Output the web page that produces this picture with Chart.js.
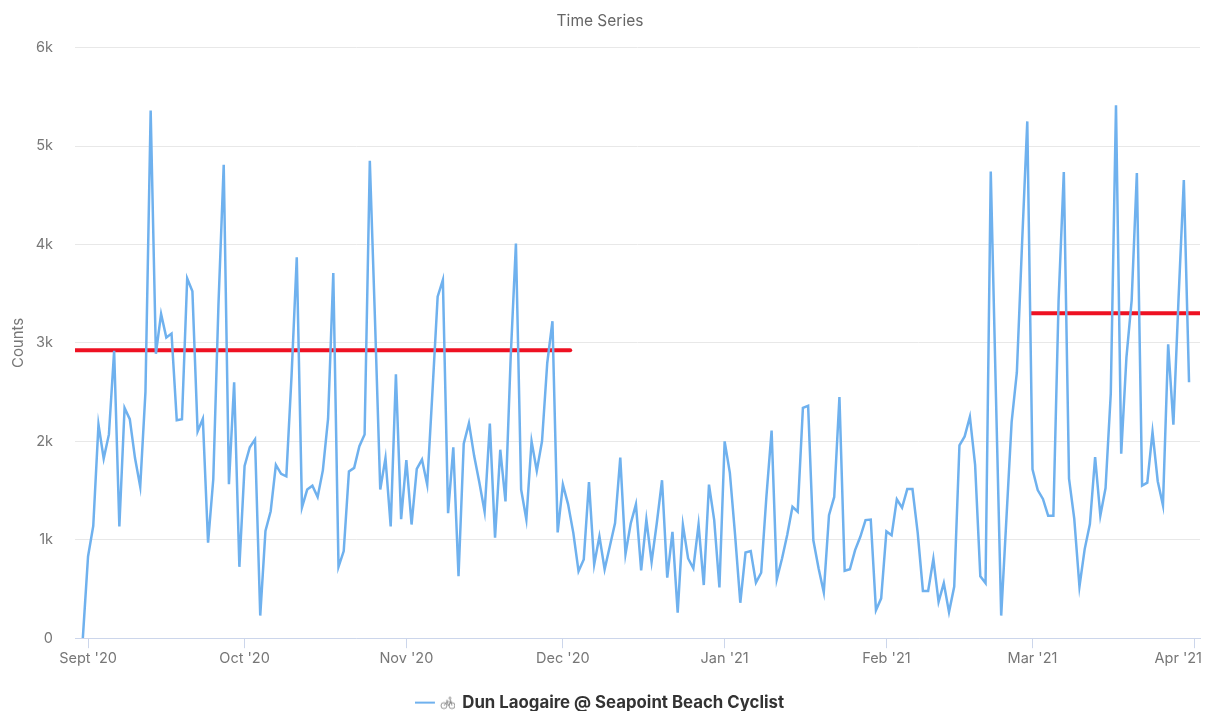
<!DOCTYPE html>
<html><head><meta charset="utf-8">
<style>html,body{margin:0;padding:0;background:#fff}#w{width:1205px;height:711px;position:relative}</style>
<script src="https://cdn.jsdelivr.net/npm/chart.js@4"></script>
</head><body><div id="w"><canvas id="c" width="1205" height="711"></canvas></div>
<script>
// day index 0 = 31 Aug 2020
const counts = [0,830,1140,2170,1825,2070,2920,1135,2340,2225,1830,1540,2500,5360,2890,3295,3055,3095,2215,2225,3655,3525,2100,2230,970,1615,3400,4810,1565,2600,725,1750,1940,2020,230,1090,1290,1760,1670,1645,2665,3870,1330,1510,1550,1435,1705,2230,3710,725,885,1695,1730,1950,2070,4850,3220,1510,1830,1135,2680,1210,1810,1155,1720,1815,1560,2500,3470,3640,1270,1940,630,1975,2185,1850,1580,1285,2180,1020,1915,1390,2860,4010,1510,1205,2000,1700,2000,2795,3220,1075,1560,1360,1070,680,800,1585,750,1035,700,935,1170,1835,855,1165,1360,690,1205,775,1170,1605,615,1080,260,1150,810,710,1155,540,1560,1200,515,2000,1680,1050,360,870,885,565,665,1435,2110,600,810,1050,1335,1285,2340,2360,995,710,465,1250,1435,2450,685,700,895,1030,1200,1205,285,405,1085,1045,1410,1325,1515,1515,1070,480,480,805,370,560,265,525,1960,2050,2250,1760,630,560,4740,2450,230,1215,2195,2700,4010,5250,1715,1505,1415,1245,1245,3430,4735,1620,1215,525,905,1160,1840,1245,1525,2485,5415,1875,2850,3430,4725,1550,1580,2095,1595,1350,2985,2170,3465,4655,2600];
const tickDays = [1,31,62,92,123,154,182,213];
const tickLabels = ["Sept '20","Oct '20","Nov '20","Dec '20","Jan '21","Feb '21","Mar '21","Apr '21"];
const yTicks = [0,1000,2000,3000,4000,5000,6000];
const yTickLabels = ["0","1k","2k","3k","4k","5k","6k"];
const seriesName = "Dun Laogaire @ Seapoint Beach Cyclist";
const autumnMeanDays = [-1.5,93.4];
const autumnMean = [2925,2925];
const springMeanDays = [181.8,214.1];
const springMean = [3300,3300];

const BLUE = '#6fb1ee', FONT = 'Inter, "Open Sans", sans-serif';

// legend swatch: line + small bicycle glyph
const sw = document.createElement('canvas'); sw.width = 40; sw.height = 16;
(function(){const g=sw.getContext('2d');
 g.strokeStyle=BLUE;g.lineWidth=2;g.beginPath();g.moveTo(0,8);g.lineTo(20,8);g.stroke();
 g.strokeStyle='#777';g.lineWidth=0.8;
 g.beginPath();g.arc(29,11,3,0,7);g.moveTo(40,11);g.arc(37,11,3,0,7);
 g.moveTo(29,11);g.lineTo(32,7);g.lineTo(36,7);g.lineTo(37,11);g.moveTo(32,7);g.lineTo(33.5,11);g.lineTo(36,7);
 g.moveTo(35.5,5);g.lineTo(36,7);g.moveTo(31,6);g.lineTo(33,6);g.stroke();
 g.beginPath();g.arc(35,3.5,1,0,7);g.stroke();
})();

new Chart(document.getElementById('c'),{
 type:'line',
 data:{datasets:[
  {label:seriesName,data:counts.map((v,i)=>({x:i,y:v})),borderColor:BLUE,backgroundColor:BLUE,borderWidth:2.5,pointRadius:0,tension:0,pointStyle:sw},
  {label:'Mean Sep–Nov',data:autumnMeanDays.map((d,i)=>({x:d,y:autumnMean[i]})),borderColor:'#ee1122',borderWidth:4,borderCapStyle:'round',pointRadius:0},
  {label:'Mean Mar',data:springMeanDays.map((d,i)=>({x:d,y:springMean[i]})),borderColor:'#ee1122',borderWidth:4,borderCapStyle:'round',pointRadius:0}
 ]},
 options:{
  responsive:false,animation:false,
  layout:{padding:{left:0,right:5,top:0,bottom:-10}},
  plugins:{
   title:{display:true,text:'Time Series',color:'#666',font:{family:FONT,size:15.5,weight:'400'},padding:{top:12,bottom:17}},
   legend:{position:'bottom',labels:{
     usePointStyle:true,pointStyleWidth:38,color:'#333',font:{family:FONT,size:16.8,weight:'700'},
     filter:(it)=>it.datasetIndex===0,padding:1}},
   tooltip:{enabled:false}
  },
  scales:{
   x:{type:'linear',min:-1.5,max:214.1,
     afterBuildTicks:s=>{s.ticks=tickDays.map(v=>({value:v}))},
     afterFit:s=>{s.height=55;s.paddingLeft=0;s.paddingRight=0},
     ticks:{autoSkip:false,maxRotation:0,minRotation:0,color:'#777',font:{family:FONT,size:14.5},padding:2,
       callback:(v)=>tickLabels[tickDays.indexOf(v)]},
     grid:{drawOnChartArea:false,drawTicks:true,tickLength:10,color:'#ccd6eb'},
     border:{color:'#ccd6eb',width:1}},
   y:{min:0,max:6000,
     afterBuildTicks:s=>{s.ticks=yTicks.map(v=>({value:v}))},
     afterFit:s=>{s.width=75;s.paddingTop=0;s.paddingBottom=0},
     title:{display:true,text:'Counts',color:'#777',font:{family:FONT,size:15},padding:{top:9,bottom:0}},
     ticks:{color:'#777',font:{family:FONT,size:14.5},padding:22,
       callback:(v)=>yTickLabels[yTicks.indexOf(v)]},
     grid:{color:'#e8e8e8',drawTicks:false},
     border:{display:false}}
  }
 },
 plugins:[{id:'shiftLast',beforeDraw(ch){
   const it=ch.scales.x.getLabelItems(); const last=it[it.length-1];
   if(last&&last.label===tickLabels[tickLabels.length-1]) last.options.translation=[ch.scales.x.getPixelForValue(213)-16,last.options.translation[1]];
 }}]
});
</script></body></html>
